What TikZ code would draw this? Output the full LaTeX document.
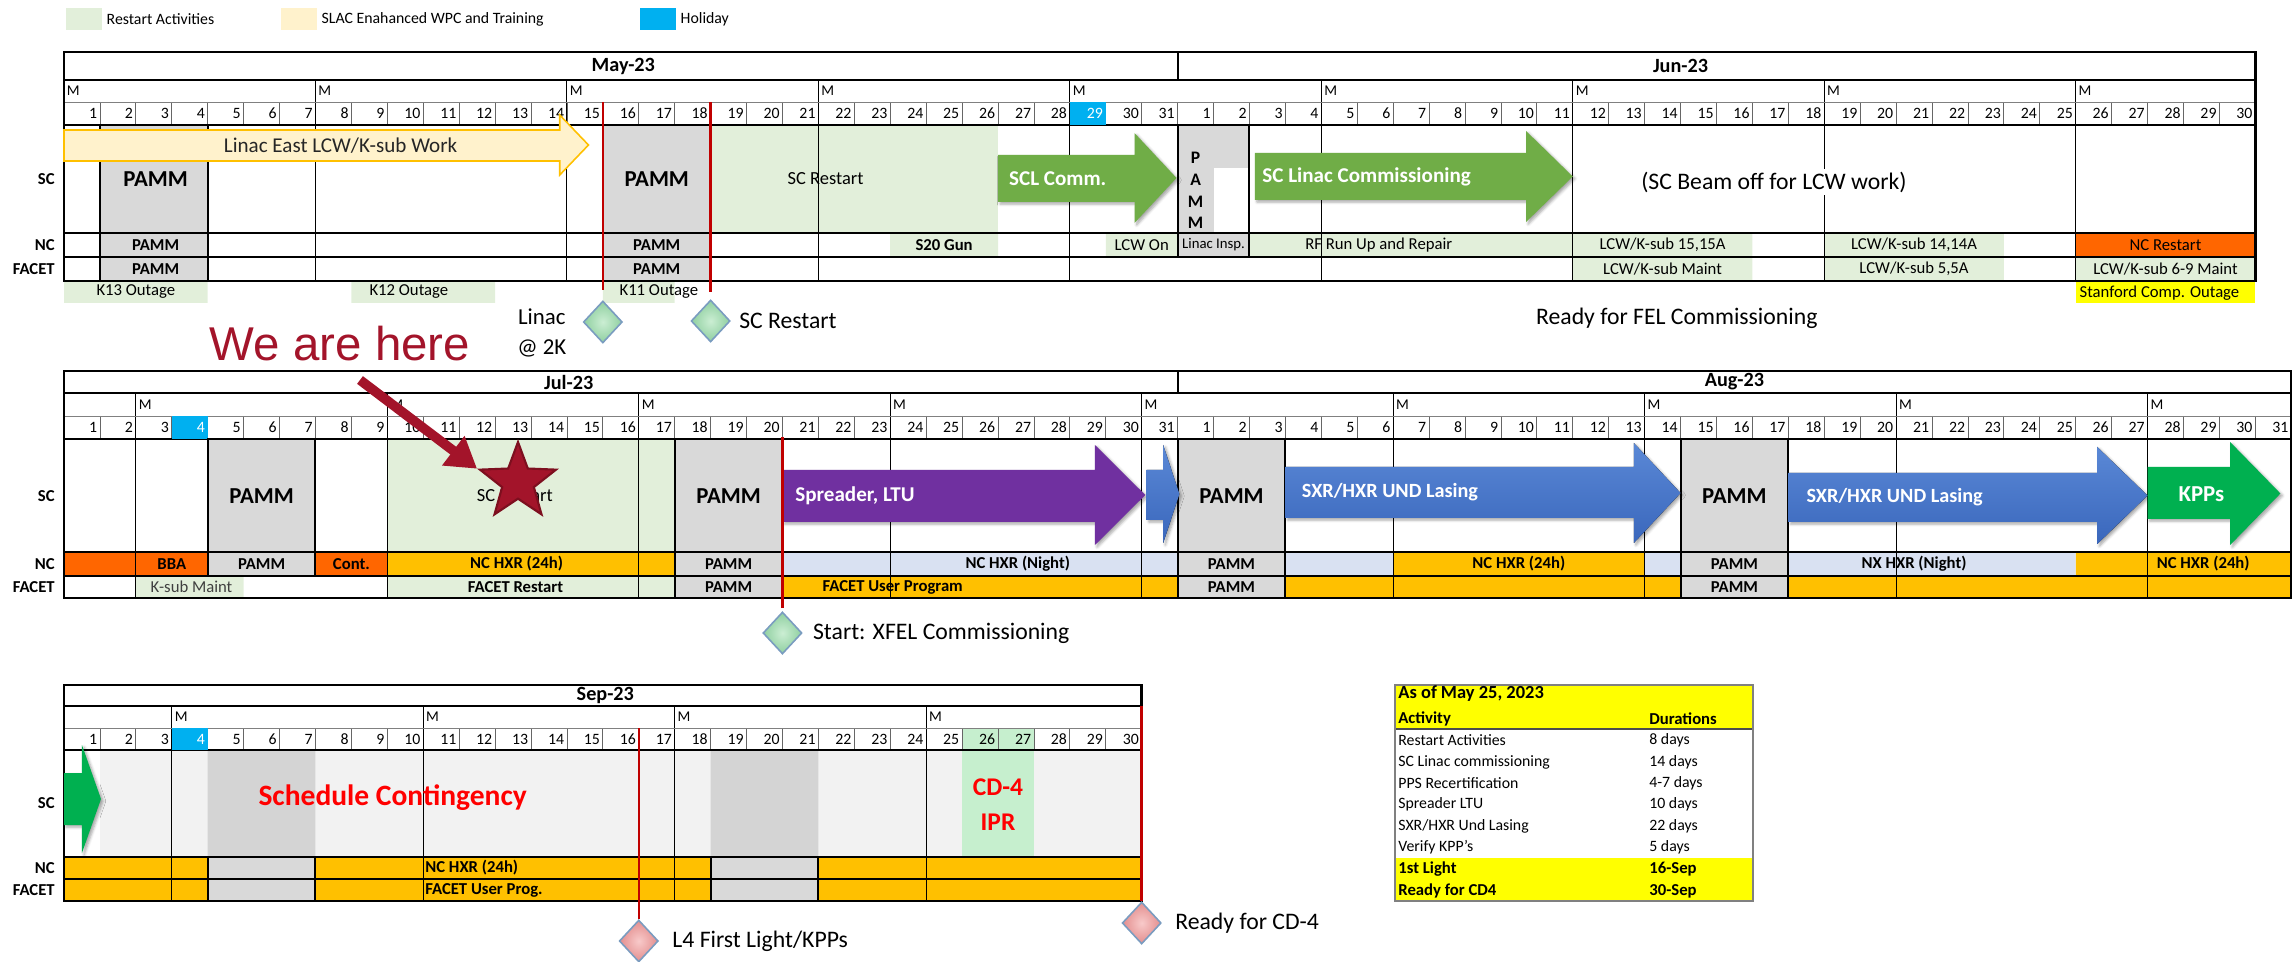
\documentclass[tikz,border=0pt]{standalone}
\usepackage{fontspec}
\setmainfont{Carlito}
\newfontfamily\herefont{Liberation Sans}
\usepackage[dvipsnames]{xcolor}
\usetikzlibrary{shadows,shadows.blur,shapes,shapes.geometric,positioning,calc,arrows.meta}

\definecolor{restart}{HTML}{E2EFDA}
\definecolor{wpc}{HTML}{FFF2CC}
\definecolor{holiday}{HTML}{00B0F0}
\definecolor{pamm}{HTML}{D9D9D9}
\definecolor{ncorange}{HTML}{FF6600}
\definecolor{hxr}{HTML}{FFC000}
\definecolor{night}{HTML}{D9E1F2}
\definecolor{sclgreen}{HTML}{70AD47}
\definecolor{spread}{HTML}{7030A0}
\definecolor{lasing}{HTML}{3A67BC}
\definecolor{lasingtop}{HTML}{5A88D6}
\definecolor{kpp}{HTML}{00B050}
\definecolor{outage}{HTML}{FFFF00}
\definecolor{redmark}{HTML}{C00000}
\definecolor{herered}{HTML}{A3142A}
\definecolor{stardark}{HTML}{7D0F1F}
\definecolor{contin}{HTML}{F2F2F2}
\definecolor{contdark}{HTML}{D4D4D4}
\definecolor{cdfour}{HTML}{C6EFCE}
\definecolor{msedge}{HTML}{7A9CC0}
\definecolor{msgreenin}{HTML}{CBEED3}
\definecolor{msgreenout}{HTML}{8FCFA0}
\definecolor{msredin}{HTML}{F8CACA}
\definecolor{msredout}{HTML}{E38E8E}

\tikzset{
  dayline/.style={black!60, line width=0.4pt},
  weekline/.style={black, line width=0.5pt},
  rowline/.style={black, line width=1.1pt},
  tableframe/.style={black, line width=1.4pt},
  pammline/.style={black, line width=1.1pt},
  redline/.style={redmark, line width=1.4pt},
  cellnum/.style={anchor=east, inner sep=0pt, font=\fontsize{9}{9}\selectfont},
  mlabel/.style={anchor=west, inner sep=1.5pt, font=\fontsize{8.5}{9}\selectfont},
  rowtag/.style={anchor=east, inner sep=0pt, font=\bfseries\fontsize{9.5}{10}\selectfont},
  monthtag/.style={inner sep=0pt, font=\bfseries\fontsize{11.5}{12}\selectfont},
  celltxt/.style={inner sep=0pt, font=\fontsize{9.5}{10}\selectfont},
  cellbold/.style={inner sep=0pt, font=\bfseries\fontsize{9.5}{10}\selectfont},
  pammbig/.style={inner sep=0pt, font=\bfseries\fontsize{13}{13}\selectfont},
  arrowtxt/.style={anchor=west, inner sep=0pt, text=white, font=\bfseries\fontsize{12}{12}\selectfont},
  arrowshadow/.style={blur shadow={shadow xshift=1.2pt, shadow yshift=-1.2pt, shadow blur radius=1.5pt, shadow opacity=35}},
  milestone/.style={diamond, draw=msedge, line width=0.9pt, minimum width=0.78cm, minimum height=0.84cm, inner sep=0pt},
  msgreen/.style={milestone, inner color=msgreenin, outer color=msgreenout},
  msred/.style={milestone, inner color=msredin, outer color=msredout},
  mslabel/.style={inner sep=0pt, font=\fontsize{13.5}{17}\selectfont},
  legbox/.style={minimum width=0.72cm, minimum height=0.44cm, inner sep=0pt},
  legtxt/.style={inner sep=0pt, font=\fontsize{9}{9}\selectfont},
  sumtxt/.style={anchor=west, inner sep=0pt, font=\fontsize{9}{9}\selectfont},
}

\newcommand{\blockarrow}[8][]{%
  \fill[#1] (#2,#5) -- (#3,#5) -- (#3,#7) -- (#4,{(#7+#8)/2}) -- (#3,#8) -- (#3,#6) -- (#2,#6) -- cycle;}
\newcommand{\calframe}[2]{%
  \pgfmathtruncatemacro\lastday{#1-1}%
  \foreach \k in {1,...,\lastday} \draw[dayline] (\k,\yM) -- (\k,\yD);
  \foreach \wk in {#2} {\draw[weekline] (\wk,\yH) -- (\wk,\yFT);
    \node[mlabel] (wk\wk) at (\wk,{(\yH+\yM)/2}) {M};}
  \draw[black!50, line width=0.5pt] (0,\yM) -- (#1,\yM);
  \draw[rowline] (0,\yH) -- (#1,\yH) (0,\yD) -- (#1,\yD) (0,\ySC) -- (#1,\ySC) (0,\yNC) -- (#1,\yNC);
  \draw[tableframe] (0,\yT) rectangle (#1,\yFT);}
\newcommand{\daynums}[3]{%
  \foreach \n in {1,...,#2} \node[cellnum] (#3\n) at ({#1+\n-0.07},{(\yM+\yD)/2}) {\n};}

\begin{document}
\begin{tikzpicture}[x=0.02cm, y=-0.02cm]
\useasboundingbox (0,0) rectangle (2293,962);

% legend
\node[legbox, fill=restart] (legRestart) at (84,19) {};
\node[legtxt, right=0.08cm of legRestart] (txtRestart) {Restart Activities};
\node[legbox, fill=wpc] (legWPC) at (299,19) {};
\node[legtxt, right=0.08cm of legWPC] (txtWPC) {SLAC Enahanced WPC and Training};
\node[legbox, fill=holiday] (legHoliday) at (658,19) {};
\node[legtxt, right=0.08cm of legHoliday] (txtHoliday) {Holiday};

% May - June
\begin{scope}[shift={(64,0)}, x=0.7186cm]
\def\yT{52}\def\yH{80}\def\yM{102}\def\yD{125}\def\ySC{233}\def\yNC{257}\def\yFT{281}
\fill[restart] (18,\yD) rectangle (26,\ySC);
\fill[restart] (23,\ySC) rectangle (26,\yNC) (29,\ySC) rectangle (31,\yNC) (33,\ySC) rectangle (47,\yNC) (49,\ySC) rectangle (54,\yNC);
\fill[restart] (42,\yNC) rectangle (47,\yFT) (49,\yNC) rectangle (54,\yFT) (56,\yNC) rectangle (61,\yFT);
\fill[ncorange] (56,\ySC) rectangle (61,\yNC);
\fill[pamm] (1,\yD) rectangle (4,\yFT) (15,\yD) rectangle (18,\yFT) (31,\yD) rectangle (33,\yNC);
\fill[white] (32,168) rectangle (33,\ySC);
\fill[restart] (0,\yFT) rectangle (4,303) (8,\yFT) rectangle (12,303) (15,\yFT) rectangle (17,303);
\fill[outage] (56,\yFT) rectangle (61,303);
\calframe{61}{0,7,14,21,28,35,42,49,56}
\draw[rowline] (31,\yT) -- (31,\yH);
\daynums{0}{31}{may}
\daynums{31}{30}{jun}
\fill[holiday] (28,\yM) rectangle (29,\yD);
\node[cellnum, text=white] (may29w) at (28.93,{(\yM+\yD)/2}) {29};
\draw[pammline] (1,\yD) rectangle (4,\yFT) (15,\yD) rectangle (18,\yFT) (31,\yD) rectangle (33,\yNC);
\blockarrow[fill=wpc, draw=hxr, line width=0.9pt]{0}{13.8}{14.6}{130}{161}{115}{175}
\blockarrow[fill=sclgreen, arrowshadow]{26}{29.8}{30.97}{155}{202}{133}{223}
\blockarrow[fill=sclgreen, arrowshadow]{33.15}{40.7}{42}{153}{200}{131}{222}
\node[inner sep=0pt, text=black!85, font=\fontsize{12}{12}\selectfont] (linacEast) at (7.7,146) {Linac East LCW/K-sub Work};
\node[arrowtxt] (sclComm) at (26.3,179) {SCL Comm.};
\node[arrowtxt] (scLinac) at (33.35,177) {SC Linac Commissioning};
\node[pammbig] (pammA) at (2.55,179) {PAMM};
\node[pammbig] (pammB) at (16.5,179) {PAMM};
\node[celltxt, font=\fontsize{10.5}{11}\selectfont] (scRestartA) at (21.2,179) {SC Restart};
\foreach \ch/\yy in {P/158,A/180,M/202,M/223} \node[cellbold, font=\bfseries\fontsize{10}{10}\selectfont] (pv\yy) at (31.5,\yy) {\ch};
\node[fill=white, inner sep=1.5pt, font=\fontsize{13.5}{14}\selectfont] (beamOff) at (47.6,182) {(SC Beam off for LCW work)};
\node[cellbold] (ncPammA) at (2.55,245) {PAMM};
\node[cellbold] (ncPammB) at (16.5,245) {PAMM};
\node[cellbold] (gun) at (24.5,245) {S20 Gun};
\node[celltxt] (lcwOn) at (30,245) {LCW On};
\node[celltxt, font=\fontsize{8.4}{9}\selectfont] (linacInsp) at (32,245) {Linac Insp.};
\node[celltxt] (rfRun) at (36.6,245) {RF Run Up and Repair};
\node[celltxt] (ksubA) at (44.5,245) {LCW/K-sub 15,15A};
\node[celltxt] (ksubB) at (51.5,245) {LCW/K-sub 14,14A};
\node[celltxt] (ncRestart) at (58.5,245) {NC Restart};
\node[cellbold] (ftPammA) at (2.55,269) {PAMM};
\node[cellbold] (ftPammB) at (16.5,269) {PAMM};
\node[celltxt] (ksubC) at (44.5,269) {LCW/K-sub Maint};
\node[celltxt] (ksubD) at (51.5,269) {LCW/K-sub 5,5A};
\node[celltxt] (ksubE) at (58.5,269) {LCW/K-sub 6-9 Maint};
\node[celltxt] (kThirteen) at (2,292) {K13 Outage};
\node[celltxt] (kTwelve) at (9.6,292) {K12 Outage};
\node[celltxt] (kEleven) at (16.56,292) {K11 Outage};
\node[celltxt, anchor=west] (stanford) at (56.1,293) {Stanford Comp. Outage};
\node[rowtag] (scA) at (-0.25,179) {SC};
\node[rowtag] (ncA) at (-0.25,245) {NC};
\node[rowtag] (facetA) at (-0.25,269) {FACET};
\node[monthtag] (may) at (15.57,66) {May-23};
\node[monthtag] (jun) at (45,66) {Jun-23};
\draw[redline] (15,\yM) -- (15,290);
\draw[redline] (18,\yM) -- (18,292);
\node[msgreen] (msLinac) at (15,322) {};
\node[msgreen] (msRestart) at (18,321) {};
\node[mslabel, align=center, font=\fontsize{13}{17}\selectfont] (lbLinac) at (13.3,333) {Linac\\@ 2K};
\node[mslabel, right=0.16cm of msRestart] (lbRestart) {SC Restart};
\node[mslabel, anchor=west] (lbFel) at (40.97,318) {Ready for FEL Commissioning};
\end{scope}

% July - August
\begin{scope}[shift={(64,0)}, x=0.7186cm]
\def\yT{371}\def\yH{393}\def\yM{416}\def\yD{439}\def\ySC{552}\def\yNC{576}\def\yFT{598}
\fill[restart] (9,\yD) rectangle (17,\ySC) (9,\yNC) rectangle (17,\yFT) (2,\yNC) rectangle (5,\yFT);
\fill[ncorange] (0,\ySC) rectangle (4,\yNC) (7,\ySC) rectangle (9,\yNC);
\fill[hxr] (9,\ySC) rectangle (17,\yNC) (37,\ySC) rectangle (44,\yNC) (56,\ySC) rectangle (62,\yNC);
\fill[hxr] (20,\yNC) rectangle (31,\yFT) (34,\yNC) rectangle (45,\yFT) (48,\yNC) rectangle (62,\yFT);
\fill[night] (20,\ySC) rectangle (31,\yNC) (34,\ySC) rectangle (37,\yNC) (44,\ySC) rectangle (45,\yNC) (48,\ySC) rectangle (56,\yNC);
\fill[pamm] (4,\yD) rectangle (7,\yNC) (17,\yD) rectangle (20,\yFT) (31,\yD) rectangle (34,\yFT) (45,\yD) rectangle (48,\yFT);
\calframe{62}{2,9,16,23,30,37,44,51,58}
\draw[rowline] (31,\yT) -- (31,\yH);
\daynums{0}{31}{jul}
\daynums{31}{31}{aug}
\fill[holiday] (3,\yM) rectangle (4,\yD);
\node[cellnum, text=white] (jul4w) at (3.93,{(\yM+\yD)/2}) {4};
\draw[pammline] (4,\yD) rectangle (7,\yNC) (17,\yD) rectangle (20,\yFT) (31,\yD) rectangle (34,\yFT) (45,\yD) rectangle (48,\yFT);
\blockarrow[fill=spread, arrowshadow]{20}{28.7}{30.1}{470}{522}{445}{545}
\blockarrow[top color=lasingtop, bottom color=lasing, arrowshadow]{30.14}{30.6}{31.05}{470}{520}{445}{543}
\blockarrow[top color=lasingtop, bottom color=lasing, arrowshadow]{34}{43.7}{45}{467}{518}{443}{543}
\blockarrow[top color=lasingtop, bottom color=lasing, arrowshadow]{48}{56.6}{58}{473}{522}{447}{544}
\blockarrow[fill=kpp, arrowshadow]{58}{60.3}{61.7}{467}{519}{442}{545}
\node[arrowtxt] (spreader) at (20.35,496) {Spreader, LTU};
\node[arrowtxt, font=\bfseries\fontsize{11.5}{12}\selectfont] (lasingA) at (34.45,492) {SXR/HXR UND Lasing};
\node[arrowtxt, font=\bfseries\fontsize{11.5}{12}\selectfont] (lasingB) at (48.5,497) {SXR/HXR UND Lasing};
\node[arrowtxt, anchor=center, font=\bfseries\fontsize{13}{13}\selectfont] (kpps) at (59.5,494) {KPPs};
\node[pammbig] (pammC) at (5.5,496) {PAMM};
\node[pammbig] (pammD) at (18.5,496) {PAMM};
\node[pammbig] (pammE) at (32.5,496) {PAMM};
\node[pammbig] (pammF) at (46.5,496) {PAMM};
\node[celltxt, font=\fontsize{10.5}{11}\selectfont] (scRestartB) at (12.55,496) {SC Restart};
\node[cellbold] (bba) at (3,564) {BBA};
\node[cellbold] (ncPammC) at (5.5,564) {PAMM};
\node[cellbold] (cont) at (8,564) {Cont.};
\node[cellbold] (hxrA) at (12.6,564) {NC HXR (24h)};
\node[cellbold] (ncPammD) at (18.5,564) {PAMM};
\node[cellbold] (nightA) at (26.55,564) {NC HXR (Night)};
\node[cellbold] (ncPammE) at (32.5,564) {PAMM};
\node[cellbold] (hxrB) at (40.5,564) {NC HXR (24h)};
\node[cellbold] (ncPammF) at (46.5,564) {PAMM};
\node[cellbold] (nightB) at (51.5,564) {NX HXR (Night)};
\node[cellbold] (hxrC) at (59.55,564) {NC HXR (24h)};
\node[celltxt, text=black!75] (ksubF) at (3.55,587) {K-sub Maint};
\node[cellbold] (facetRestart) at (12.57,587) {FACET Restart};
\node[cellbold] (ftPammD) at (18.5,587) {PAMM};
\node[cellbold] (userProg) at (23.07,587) {FACET User Program};
\node[cellbold] (ftPammE) at (32.5,587) {PAMM};
\node[cellbold] (ftPammF) at (46.5,587) {PAMM};
\node[rowtag] (scB) at (-0.25,496) {SC};
\node[rowtag] (ncB) at (-0.25,564) {NC};
\node[rowtag] (facetB) at (-0.25,587) {FACET};
\node[monthtag] (jul) at (14.05,382) {Jul-23};
\node[monthtag] (aug) at (46.5,382) {Aug-23};
\draw[redline] (20,437) -- (20,608);
\node[msgreen] (msXfel) at (20,633) {};
\node[mslabel, right=0.2cm of msXfel] (lbXfel) {Start: XFEL Commissioning};
\end{scope}

% September
\begin{scope}[shift={(64,0)}, x=0.7186cm]
\def\yT{685}\def\yH{706}\def\yM{728}\def\yD{750}\def\ySC{857}\def\yNC{879}\def\yFT{901}
\fill[contin] (1,\yD) rectangle (30,\ySC);
\fill[contdark] (4,\yD) rectangle (7,\ySC) (18,\yD) rectangle (21,\ySC);
\fill[cdfour] (25,\yM) rectangle (27,\ySC);
\fill[hxr] (0,\ySC) rectangle (4,\yFT) (7,\ySC) rectangle (18,\yFT) (21,\ySC) rectangle (30,\yFT);
\fill[pamm] (4,\ySC) rectangle (7,\yFT) (18,\ySC) rectangle (21,\yFT);
\calframe{30}{3,10,17,24}
\daynums{0}{30}{sep}
\fill[holiday] (3,\yM) rectangle (4,\yD);
\node[cellnum, text=white] (sep4w) at (3.93,{(\yM+\yD)/2}) {4};
\draw[pammline] (4,\ySC) rectangle (7,\yFT) (18,\ySC) rectangle (21,\yFT);
\blockarrow[fill=kpp, arrowshadow]{0}{0.5}{1.03}{773}{825}{745}{853}
\node[inner sep=0pt, text=red, font=\bfseries\fontsize{16.8}{17}\selectfont] (contingency) at (9.15,798) {Schedule Contingency};
\node[inner sep=0pt, text=red, align=center, font=\bfseries\fontsize{14.5}{20}\selectfont] (cdIpr) at (26,805) {CD-4\\IPR};
\node[cellbold, anchor=west] (hxrSep) at (10.05,868) {NC HXR (24h)};
\node[cellbold, anchor=west] (progSep) at (10.05,890) {FACET User Prog.};
\node[rowtag] (scC) at (-0.25,803) {SC};
\node[rowtag] (ncC) at (-0.25,868) {NC};
\node[rowtag] (facetC) at (-0.25,890) {FACET};
\node[monthtag] (sep) at (15.07,695) {Sep-23};
\node[msred] (msLight) at (16,941) {};
\node[msred] (msCD) at (30,923) {};
\draw[redline] (16,\yM) -- (msLight.north);
\draw[redline] (30,\yH) -- (msCD.north);
\node[mslabel, right=0.26cm of msLight] (lbLight) {L4 First Light/KPPs};
\node[mslabel, right=0.26cm of msCD] (lbCD) {Ready for CD-4};
\end{scope}

% we are here
\node[inner sep=0pt, text=herered, font=\herefont\fontsize{27}{27}\selectfont] (here) at (340,344) {We are here};
\node[star, star points=5, star point ratio=2.4, minimum size=1.6cm, inner sep=0pt, fill=herered, draw=stardark, line width=1.2pt] (star) at (518,482) {};
\coordinate (hereTail) at (360,380);
\draw[herered, line width=5.5pt, -{Triangle[width=20pt,length=17pt]}] (hereTail) -- (star.outer point 2);

% summary
\fill[outage] (1395,685) rectangle (1753,729) (1395,858) rectangle (1753,901);
\draw[black!70, line width=1.2pt] (1395,729) -- (1753,729);
\draw[black!50, line width=0.8pt] (1395,685) rectangle (1753,901);
\node[sumtxt, font=\bfseries\fontsize{10.5}{11}\selectfont] (asOf) at (1398,694) {As of May 25, 2023};
\node[sumtxt, font=\bfseries\fontsize{9.5}{10}\selectfont] (actHead) at (1398,719) {Activity};
\node[sumtxt, font=\bfseries\fontsize{9.5}{10}\selectfont] (durHead) at (1649,719) {Durations};
\foreach \yy/\act/\dur in {740/{Restart Activities}/{8 days}, 762/{SC Linac commissioning}/{14 days}, 783/{PPS Recertification}/{4-7 days}, 804/{Spreader LTU}/{10 days}, 826/{SXR/HXR Und Lasing}/{22 days}, 847/{Verify KPP's}/{5 days}} {
  \node[sumtxt] (act\yy) at (1398,\yy) {\act};
  \node[sumtxt] (dur\yy) at (1649,\yy) {\dur};
}
\node[sumtxt, font=\bfseries\fontsize{9.5}{10}\selectfont] (actLight) at (1398,869) {1st Light};
\node[sumtxt, font=\bfseries\fontsize{9.5}{10}\selectfont] (durLight) at (1649,869) {16-Sep};
\node[sumtxt, font=\bfseries\fontsize{9.5}{10}\selectfont] (actCD) at (1398,891) {Ready for CD4};
\node[sumtxt, font=\bfseries\fontsize{9.5}{10}\selectfont] (durCD) at (1649,891) {30-Sep};
\end{tikzpicture}
\end{document}
